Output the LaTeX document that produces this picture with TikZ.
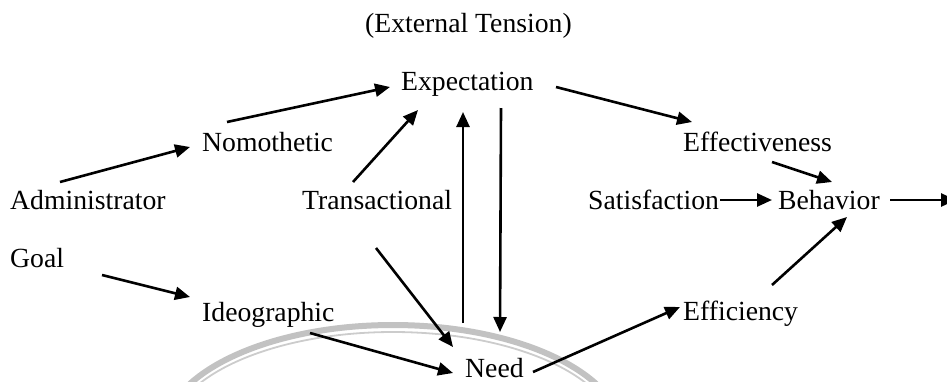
\documentclass[tikz,border=0pt]{standalone}
\usepackage{fontspec}
\setmainfont{Liberation Serif}
\usetikzlibrary{arrows.meta,calc}
\begin{document}
\begin{tikzpicture}[x=1pt,y=-1pt,
  lbl/.style={anchor=base west,inner sep=0pt,font=\fontsize{27.7}{33}\selectfont},
  arr/.style={line width=2.6pt,-{Triangle[length=15pt,width=13pt]}},
  wm/.style={draw=black!24,line width=6pt},
  wmthin/.style={draw=black!20,line width=1.8pt}]
\useasboundingbox (0,0) rectangle (947,381);
% faint watermark arcs
\begin{scope}
\clip (0,0) rectangle (947,381);
\draw[wm] (393,436) ellipse[x radius=230,y radius=111];
\draw[wmthin] (393,436) ellipse[x radius=224,y radius=104];
\end{scope}
% labels
\node[lbl] (ext)   at (365,32)  {(External Tension)};
\node[lbl] (exp)   at (401,90)  {Expectation};
\node[lbl] (nomo)  at (202,151) {Nomothetic};
\node[lbl] (eff)   at (683,151) {Effectiveness};
\node[lbl] (admin) at (10,209)  {Administrator};
\node[lbl] (trans) at (302,209) {Transactional};
\node[lbl] (sat)   at (588,209) {Satisfaction};
\node[lbl] (beh)   at (778,209) {Behavior};
\node[lbl] (goal)  at (10,267)  {Goal};
\node[lbl] (ideo)  at (202,321) {Ideographic};
\node[lbl] (effc)  at (683,320) {Efficiency};
\node[lbl] (need)  at (465,377) {Need};
\coordinate (out) at (956,200);
% connectors
\draw[arr] ($(admin.base west)+(50,-27)$) -- ($(nomo.base west)+(-12,-4)$);
\draw[arr] ($(nomo.base west)+(25,-29)$) -- ($(exp.base west)+(-11,-3)$);
\draw[arr] ($(exp.base west)+(155,-3)$) -- ($(eff.base west)+(9,-29)$);
\draw[arr] ($(eff.base west)+(89,11)$) -- ($(beh.base west)+(54,-27)$);
\draw[arr] ($(sat.base west)+(132,-9)$) -- ($(beh.base west)+(-6,-9)$);
\draw[arr] ($(beh.base west)+(112,-9)$) -- (out);
\draw[arr] ($(effc.base west)+(89,-35)$) -- ($(beh.base west)+(69,8)$);
\draw[arr] ($(need.base west)+(68,-5)$) -- ($(effc.base west)+(-3,-13)$);
\draw[arr] ($(trans.base west)+(51,-27)$) -- ($(exp.base west)+(17,20)$);
\draw[arr] ($(trans.base west)+(74,39)$) -- ($(need.base west)+(-12,-30)$);
\draw[arr] ($(need.base west)+(-2,-54)$) -- ($(exp.base west)+(62,22)$);
\draw[arr] ($(exp.base west)+(100,18)$) -- ($(need.base west)+(35,-45)$);
\draw[arr] ($(goal.base west)+(92,8)$) -- ($(ideo.base west)+(-12,-24)$);
\draw[arr] ($(ideo.base west)+(108,12)$) -- ($(need.base west)+(-12,-4)$);
\end{tikzpicture}
\end{document}
